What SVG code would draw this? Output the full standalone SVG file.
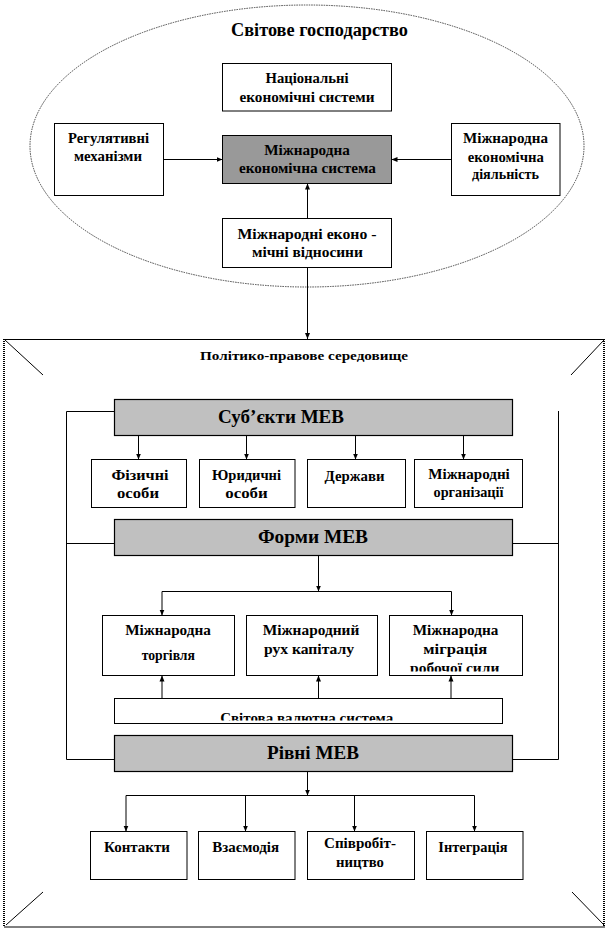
<svg xmlns="http://www.w3.org/2000/svg" width="607" height="930" viewBox="0 0 607 930" font-family="Liberation Serif, Times New Roman, serif">
<style>
text{font-family:Liberation Serif, Times New Roman, serif;font-weight:bold;fill:#000;text-anchor:middle;font-size:15px}
.b{fill:#fff;stroke:#000;stroke-width:1}
.g{fill:#999;stroke:#000;stroke-width:1}
.bar{fill:#c0c0c0;stroke:#000;stroke-width:1.2}
.big{font-size:19px}
.c{fill:none;stroke:#000;stroke-width:1}
.a{marker-end:url(#ah)}
.dot{fill:none;stroke:#000;stroke-width:2;stroke-dasharray:1 1}
</style>
<defs>
<marker id="ah" markerWidth="6" markerHeight="6" refX="6" refY="3" orient="auto" markerUnits="userSpaceOnUse"><path d="M0,0.5 L6,3 L0,5.5 Z" fill="#000"/></marker>
<clipPath id="clipRob"><rect x="389" y="615" width="133" height="56.5"/></clipPath>
<clipPath id="clipSv"><rect x="114" y="698" width="388" height="22.5"/></clipPath>
</defs>
<rect x="0" y="0" width="607" height="930" fill="#fff"/>

<g id="world">
<ellipse cx="307" cy="146" rx="277" ry="141" fill="none" stroke="#444" stroke-width="1" stroke-dasharray="1.5 1"/>
<text x="319.5" y="36" style="font-size:18px" textLength="177" lengthAdjust="spacingAndGlyphs">Світове господарство</text>
</g>

<g id="national">
<rect class="b" x="222.5" y="63.5" width="169" height="47.5"/>
<text x="307" y="83" textLength="83" lengthAdjust="spacingAndGlyphs">Національні</text>
<text x="307" y="101.5" textLength="135" lengthAdjust="spacingAndGlyphs">економічні системи</text>
</g>

<g id="regulatory">
<rect class="b" x="54.5" y="123.5" width="109" height="72"/>
<text x="108.5" y="143" textLength="81" lengthAdjust="spacingAndGlyphs">Регулятивні</text>
<text x="108" y="161" textLength="68" lengthAdjust="spacingAndGlyphs">механізми</text>
</g>

<g id="ies">
<rect class="g" x="222.5" y="135.5" width="169" height="48"/>
<text x="307" y="155" textLength="85.5" lengthAdjust="spacingAndGlyphs">Міжнародна</text>
<text x="307.4" y="173" textLength="137" lengthAdjust="spacingAndGlyphs">економічна система</text>
</g>

<g id="activity">
<rect class="b" x="451.5" y="123.5" width="108.5" height="72"/>
<text x="505.5" y="143" textLength="85" lengthAdjust="spacingAndGlyphs">Міжнародна</text>
<text x="505.8" y="161.5" textLength="76" lengthAdjust="spacingAndGlyphs">економічна</text>
<text x="505.5" y="179" textLength="67" lengthAdjust="spacingAndGlyphs">діяльність</text>
</g>

<g id="relations">
<rect class="b" x="222.5" y="218.5" width="169" height="49"/>
<text x="307" y="239" textLength="139" lengthAdjust="spacingAndGlyphs">Міжнародні еконо -</text>
<text x="307.4" y="257" textLength="111" lengthAdjust="spacingAndGlyphs">мічні відносини</text>
</g>

<g id="frame">
<path class="c" d="M4,339.5 H605 M4,927 H605 M5,340 L43,375 M604,340 L571,375 M43,892 L6,925 M572,892 L604,925"/>
<path class="dot" d="M4,339 V927 M604,339 V927"/>
<text x="304" y="360" style="font-size:13px" textLength="208" lengthAdjust="spacingAndGlyphs">Політико-правове середовище</text>
</g>

<g id="subjects">
<rect class="bar" x="114.5" y="399.5" width="398" height="36"/>
<text class="big" x="281" y="422.5" textLength="126" lengthAdjust="spacingAndGlyphs">Суб’єкти МЕВ</text>
</g>
<g id="physical">
<rect class="b" x="91.5" y="459.5" width="95" height="48"/>
<text x="140" y="480" textLength="57" lengthAdjust="spacingAndGlyphs">Фізичні</text>
<text x="138" y="498" textLength="42" lengthAdjust="spacingAndGlyphs">особи</text>
</g>
<g id="legal">
<rect class="b" x="199.5" y="459.5" width="95.5" height="48"/>
<text x="246.5" y="480" textLength="69" lengthAdjust="spacingAndGlyphs">Юридичні</text>
<text x="246.5" y="498" textLength="42.5" lengthAdjust="spacingAndGlyphs">особи</text>
</g>
<g id="states">
<rect class="b" x="307.5" y="459.5" width="98" height="48"/>
<text x="354.5" y="481" textLength="60" lengthAdjust="spacingAndGlyphs">Держави</text>
</g>
<g id="intorg">
<rect class="b" x="414.5" y="459.5" width="108" height="48"/>
<text x="469" y="479" textLength="81.5" lengthAdjust="spacingAndGlyphs">Міжнародні</text>
<text x="468.5" y="497" textLength="70" lengthAdjust="spacingAndGlyphs">організації</text>
</g>

<g id="forms">
<rect class="bar" x="114.5" y="519.5" width="398" height="36"/>
<text class="big" x="313" y="543" textLength="110" lengthAdjust="spacingAndGlyphs">Форми МЕВ</text>
</g>
<g id="trade">
<rect class="b" x="102.5" y="615.5" width="132" height="60"/>
<text x="168" y="635" textLength="85.7" lengthAdjust="spacingAndGlyphs">Міжнародна</text>
<text x="168.3" y="660" textLength="53.3" lengthAdjust="spacingAndGlyphs">торгівля</text>
</g>
<g id="capital">
<rect class="b" x="246.5" y="615.5" width="131" height="60"/>
<text x="311" y="635" textLength="96.7" lengthAdjust="spacingAndGlyphs">Міжнародний</text>
<text x="309" y="654" textLength="90" lengthAdjust="spacingAndGlyphs">рух капіталу</text>
</g>
<g id="labour">
<rect class="b" x="389.5" y="615.5" width="133" height="60"/>
<text x="455.5" y="635" textLength="85.7" lengthAdjust="spacingAndGlyphs">Міжнародна</text>
<text x="455.3" y="654" textLength="64" lengthAdjust="spacingAndGlyphs">міграція</text>
<text x="454.7" y="673" textLength="89.3" lengthAdjust="spacingAndGlyphs" clip-path="url(#clipRob)">робочої сили</text>
</g>
<g id="currency">
<rect class="b" x="114.5" y="698.5" width="388" height="25"/>
<text x="306.7" y="722.5" textLength="173" lengthAdjust="spacingAndGlyphs" clip-path="url(#clipSv)">Світова валютна система</text>
</g>

<g id="levels">
<rect class="bar" x="114.5" y="735.5" width="398" height="36"/>
<text class="big" x="313" y="759" textLength="92" lengthAdjust="spacingAndGlyphs">Рівні МЕВ</text>
</g>
<g id="contacts">
<rect class="b" x="90.5" y="831.5" width="96.5" height="48"/>
<text x="137" y="852" textLength="66" lengthAdjust="spacingAndGlyphs">Контакти</text>
</g>
<g id="interaction">
<rect class="b" x="198.5" y="831.5" width="96.5" height="48"/>
<text x="245.7" y="852" textLength="66.7" lengthAdjust="spacingAndGlyphs">Взаємодія</text>
</g>
<g id="cooperation">
<rect class="b" x="307.5" y="831.5" width="107" height="48"/>
<text x="360" y="848" textLength="72" lengthAdjust="spacingAndGlyphs">Співробіт-</text>
<text x="360" y="866.5" textLength="48" lengthAdjust="spacingAndGlyphs">ництво</text>
</g>
<g id="integration">
<rect class="b" x="426.5" y="831.5" width="96.5" height="48"/>
<text x="473" y="852" textLength="69.3" lengthAdjust="spacingAndGlyphs">Інтеграція</text>
</g>

<g id="connectors">
<path class="c a" d="M163.5,159.5 H222.5"/>
<path class="c a" d="M451.5,159.5 H391.5"/>
<path class="c a" d="M307.5,218.5 V183.5"/>
<path class="c a" d="M307.5,267.5 V339"/>
<path class="c a" d="M138.5,435.5 V459.5"/>
<path class="c a" d="M246.5,435.5 V459.5"/>
<path class="c a" d="M355.5,435.5 V459.5"/>
<path class="c a" d="M463.5,435.5 V459.5"/>
<path class="c" d="M114.5,411.5 H66.5 V759.5 H114.5 M66.5,543.5 H114.5 M512.5,543.5 H558.5 M558.5,411 V759.5 H512.5"/>
<path class="c a" d="M318.5,555.5 V591.5"/>
<path class="c" d="M162,591.5 H451.5"/>
<path class="c a" d="M162,591.5 V615.5"/>
<path class="c a" d="M451.5,591.5 V615.5"/>
<path class="c a" d="M162,698.5 V675.5"/>
<path class="c a" d="M318.5,698.5 V675.5"/>
<path class="c a" d="M451,698.5 V675.5"/>
<path class="c a" d="M307.5,771.5 V795.5"/>
<path class="c" d="M126,795.5 H474.5"/>
<path class="c a" d="M126,795.5 V831.5"/>
<path class="c a" d="M245.5,795.5 V831.5"/>
<path class="c a" d="M354.5,795.5 V831.5"/>
<path class="c a" d="M474.5,795.5 V831.5"/>
</g>
</svg>
